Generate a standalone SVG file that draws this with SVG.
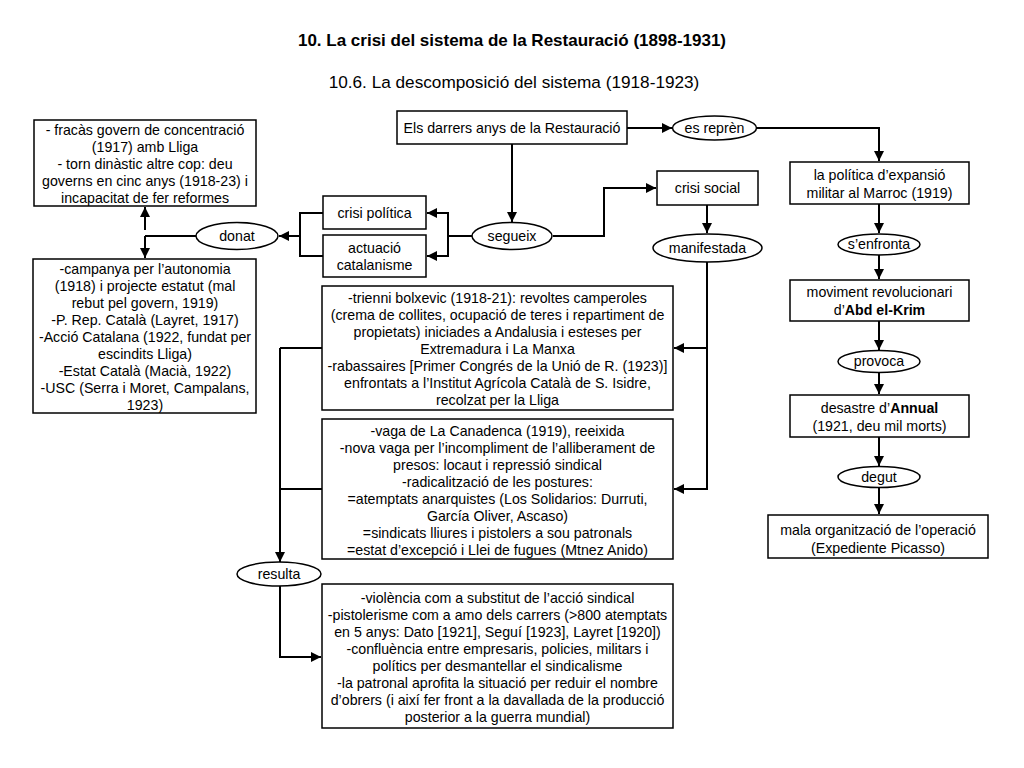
<svg xmlns="http://www.w3.org/2000/svg" width="1024" height="768" viewBox="0 0 1024 768">
<defs>
<marker id="ah" viewBox="0 0 10 10" refX="10" refY="5" markerWidth="5" markerHeight="5" orient="auto-start-reverse" markerUnits="strokeWidth">
<path d="M0,0 L10,5 L0,10 z" fill="#000"/>
</marker>
<style>
.b{fill:#fff;stroke:#000;stroke-width:1.5}
.t{font-family:"Liberation Sans",Arial,sans-serif;font-size:14.2px;fill:#000;text-anchor:middle}
.c{fill:none;stroke:#000;stroke-width:2}
.a{marker-end:url(#ah)}
</style>
</defs>
<rect width="1024" height="768" fill="#fff"/>
<text x="512" y="46" style="font-family:'Liberation Sans',Arial,sans-serif;font-size:17px;font-weight:bold;text-anchor:middle">10. La crisi del sistema de la Restauració (1898-1931)</text>
<text x="514" y="88" style="font-family:'Liberation Sans',Arial,sans-serif;font-size:17.2px;text-anchor:middle">10.6. La descomposició del sistema (1918-1923)</text>

<g id="connectors">
<path class="c a" d="M145,230 V207"/>
<path class="c a" d="M145,236 V258"/>
<path class="c" d="M145,236 H196"/>
<path class="c a" d="M300,236 H279"/>
<path class="c" d="M323,213 H300 V256 H323"/>
<path class="c a" d="M512,144 V222"/>
<path class="c" d="M472,236 H448"/>
<path class="c a" d="M448,236 V213 H427"/>
<path class="c a" d="M448,236 V256 H427"/>
<path class="c a" d="M553,236 H604 V188 H656"/>
<path class="c a" d="M627,128 H672"/>
<path class="c a" d="M757,128 H879 V161"/>
<path class="c a" d="M707,205 V233"/>
<path class="c a" d="M707,262 V348 H674"/>
<path class="c a" d="M707,348 V489 H674"/>
<path class="c" d="M322,348 H280"/>
<path class="c" d="M322,489 H280"/>
<path class="c a" d="M280,348 V562"/>
<path class="c a" d="M280,586 V657 H321"/>
<path class="c a" d="M879,204 V233"/>
<path class="c a" d="M879,255 V279"/>
<path class="c a" d="M879,321 V350"/>
<path class="c a" d="M879,373 V394"/>
<path class="c a" d="M879,437 V466"/>
<path class="c a" d="M879,488 V514"/>
</g>

<g id="n-fracas">
<rect class="b" x="34" y="120" width="222" height="86"/>
<text class="t" x="145" y="135">- fracàs govern de concentració</text>
<text class="t" x="145" y="152">(1917) amb Lliga</text>
<text class="t" x="145" y="169">- torn dinàstic altre cop: deu</text>
<text class="t" x="145" y="186">governs en cinc anys (1918-23) i</text>
<text class="t" x="145" y="203">incapacitat de fer reformes</text>
</g>

<g id="n-campanya">
<rect class="b" x="33" y="259" width="223" height="154"/>
<text class="t" x="145" y="274">-campanya per l’autonomia</text>
<text class="t" x="145" y="291">(1918) i projecte estatut (mal</text>
<text class="t" x="145" y="308">rebut pel govern, 1919)</text>
<text class="t" x="145" y="325">-P. Rep. Català (Layret, 1917)</text>
<text class="t" x="145" y="342">-Acció Catalana (1922, fundat per</text>
<text class="t" x="145" y="359">escindits Lliga)</text>
<text class="t" x="145" y="376">-Estat Català (Macià, 1922)</text>
<text class="t" x="145" y="393">-USC (Serra i Moret, Campalans,</text>
<text class="t" x="145" y="410">1923)</text>
</g>

<g id="n-donat">
<ellipse class="b" cx="237" cy="236" rx="41" ry="13.5"/>
<text class="t" x="237" y="241">donat</text>
</g>

<g id="n-crisipol">
<rect class="b" x="323" y="196" width="103" height="33"/>
<text class="t" x="374.5" y="218">crisi política</text>
</g>

<g id="n-actuacio">
<rect class="b" x="323" y="235" width="103" height="42"/>
<text class="t" x="374.5" y="253">actuació</text>
<text class="t" x="374.5" y="270">catalanisme</text>
</g>

<g id="n-darrers">
<rect class="b" x="397" y="111" width="230" height="33"/>
<text class="t" x="512" y="133">Els darrers anys de la Restauració</text>
</g>

<g id="n-segueix">
<ellipse class="b" cx="512" cy="236" rx="40" ry="13.5"/>
<text class="t" x="512" y="241">segueix</text>
</g>

<g id="n-esrepren">
<ellipse class="b" cx="714.5" cy="128" rx="42" ry="12"/>
<text class="t" x="714.5" y="133">es reprèn</text>
</g>

<g id="n-crisisocial">
<rect class="b" x="657" y="171" width="101" height="34"/>
<text class="t" x="707.5" y="193">crisi social</text>
</g>

<g id="n-manifestada">
<ellipse class="b" cx="707.5" cy="248" rx="54.5" ry="14"/>
<text class="t" x="707.5" y="253">manifestada</text>
</g>

<g id="n-trienni">
<rect class="b" x="322" y="286" width="351" height="124"/>
<text class="t" x="497.5" y="303">-trienni bolxevic (1918-21): revoltes camperoles</text>
<text class="t" x="497.5" y="320">(crema de collites, ocupació de teres i repartiment de</text>
<text class="t" x="497.5" y="337">propietats) iniciades a Andalusia i esteses per</text>
<text class="t" x="497.5" y="354">Extremadura i La Manxa</text>
<text class="t" x="497.5" y="371">-rabassaires [Primer Congrés de la Unió de R. (1923)]</text>
<text class="t" x="497.5" y="388">enfrontats a l’Institut Agrícola Català de S. Isidre,</text>
<text class="t" x="497.5" y="405">recolzat per la Lliga</text>
</g>

<g id="n-vaga">
<rect class="b" x="322" y="419" width="351" height="140"/>
<text class="t" x="497.5" y="436">-vaga de La Canadenca (1919), reeixida</text>
<text class="t" x="497.5" y="453">-nova vaga per l’incompliment de l’alliberament de</text>
<text class="t" x="497.5" y="470">presos: locaut i repressió sindical</text>
<text class="t" x="497.5" y="487">-radicalització de les postures:</text>
<text class="t" x="497.5" y="504">=atemptats anarquistes (Los Solidarios: Durruti,</text>
<text class="t" x="497.5" y="521">García Oliver, Ascaso)</text>
<text class="t" x="497.5" y="538">=sindicats lliures i pistolers a sou patronals</text>
<text class="t" x="497.5" y="555">=estat d’excepció i Llei de fugues (Mtnez Anido)</text>
</g>

<g id="n-resulta">
<ellipse class="b" cx="279" cy="574" rx="42" ry="12"/>
<text class="t" x="279" y="579">resulta</text>
</g>

<g id="n-violencia">
<rect class="b" x="322" y="584" width="351" height="144"/>
<text class="t" x="497.5" y="603">-violència com a substitut de l’acció sindical</text>
<text class="t" x="497.5" y="620">-pistolerisme com a amo dels carrers (&gt;800 atemptats</text>
<text class="t" x="497.5" y="637">en 5 anys: Dato [1921], Seguí [1923], Layret [1920])</text>
<text class="t" x="497.5" y="654">-confluència entre empresaris, policies, militars i</text>
<text class="t" x="497.5" y="671">polítics per desmantellar el sindicalisme</text>
<text class="t" x="497.5" y="688">-la patronal aprofita la situació per reduir el nombre</text>
<text class="t" x="497.5" y="705">d’obrers (i així fer front a la davallada de la producció</text>
<text class="t" x="497.5" y="722">posterior a la guerra mundial)</text>
</g>

<g id="n-politica">
<rect class="b" x="790" y="162" width="179" height="42"/>
<text class="t" x="879.5" y="180">la política d’expansió</text>
<text class="t" x="879.5" y="198">militar al Marroc (1919)</text>
</g>

<g id="n-senfronta">
<ellipse class="b" cx="879" cy="244.5" rx="41" ry="10.5"/>
<text class="t" x="879" y="249">s’enfronta</text>
</g>

<g id="n-moviment">
<rect class="b" x="790" y="280" width="179" height="41"/>
<text class="t" x="879.5" y="297">moviment revolucionari</text>
<text class="t" x="879.5" y="315">d’<tspan font-weight="bold">Abd el-Krim</tspan></text>
</g>

<g id="n-provoca">
<ellipse class="b" cx="879" cy="361.5" rx="41" ry="11"/>
<text class="t" x="879" y="366">provoca</text>
</g>

<g id="n-desastre">
<rect class="b" x="790" y="395" width="179" height="42"/>
<text class="t" x="879.5" y="413">desastre d’<tspan font-weight="bold">Annual</tspan></text>
<text class="t" x="879.5" y="431">(1921, deu mil morts)</text>
</g>

<g id="n-degut">
<ellipse class="b" cx="879" cy="477" rx="41" ry="10.5"/>
<text class="t" x="879" y="482">degut</text>
</g>

<g id="n-mala">
<rect class="b" x="768" y="515" width="220" height="43"/>
<text class="t" x="878" y="535">mala organització de l’operació</text>
<text class="t" x="878" y="553">(Expediente Picasso)</text>
</g>
</svg>
